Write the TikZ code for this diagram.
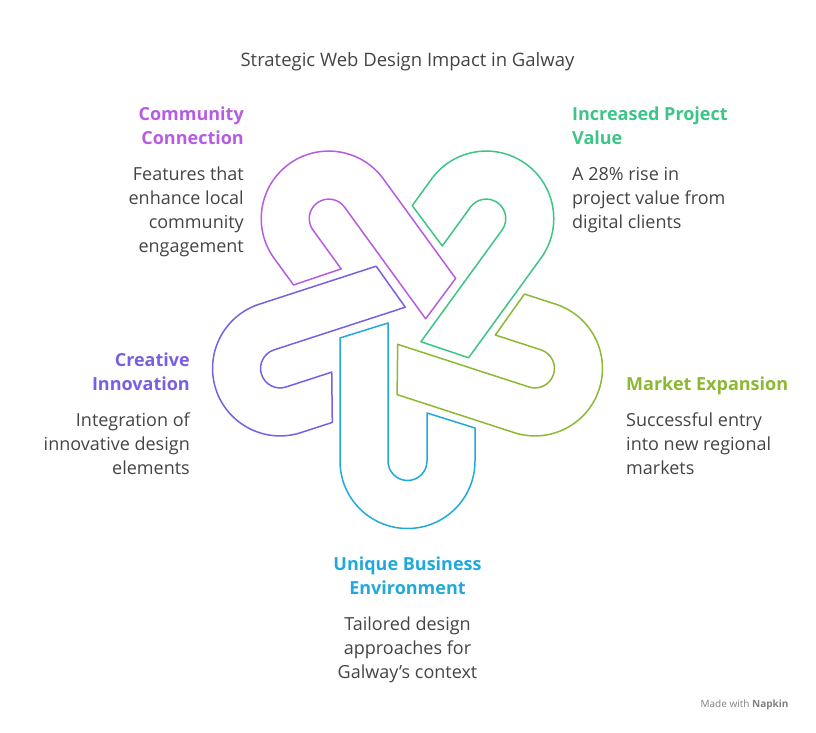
\documentclass[tikz,border=0pt]{standalone}
\usepackage{fontspec}
\setmainfont{Open Sans}
\definecolor{cpurple}{HTML}{B65CE3}
\definecolor{cgreen}{HTML}{3DC487}
\definecolor{colive}{HTML}{8DB833}
\definecolor{cblue}{HTML}{22A9DC}
\definecolor{cviolet}{HTML}{7B5FE2}
\definecolor{ctext}{HTML}{444444}
\tikzset{
  link/.style={line width=1.5pt,fill=white,line join=round},
  heading/.style={font=\bfseries\fontsize{18}{24}\selectfont,inner sep=0pt},
  desc/.style={font=\fontsize{18}{24}\selectfont,text=ctext,inner sep=0pt}
}
\begin{document}
\begin{tikzpicture}[x=1pt,y=-1pt]
  \useasboundingbox (0,0) rectangle (816,733);
  \coordinate (C) at (407.5,327);
  % one link, rotated round the centre
  \foreach \ang/\col in {0/cblue,72/colive,144/cgreen,-72/cviolet,-144/cpurple}{
    \begin{scope}[shift={(C)},rotate=\ang]
      \draw [link,draw=\col] (-67.5,11) -- (-19.5,-4) -- (-19.5,134)
        arc [start angle=180,end angle=0,radius=19.5]
        -- (19.5,86) -- (67.5,101) -- (67.5,134)
        arc [start angle=0,end angle=180,radius=67.5] -- cycle;
    \end{scope}
  }
  \node [desc,anchor=north] (title) at (407.5,52) {\fontsize{18.5}{22}\selectfont Strategic Web Design Impact in Galway};
  \node [heading,cpurple,anchor=north east,align=right] (comm) at (244,107) {Community\\Connection};
  \node [desc,anchor=north east,align=right] (commtxt) at (244,167) {Features that\\enhance local\\community\\engagement};
  \node [heading,cgreen,anchor=north west,align=left] (value) at (572,107) {Increased Project\\Value};
  \node [desc,anchor=north west,align=left] (valuetxt) at (572,167) {A 28\% rise in\\project value from\\digital clients};
  \node [heading,cviolet,anchor=north east,align=right] (innov) at (190,353) {Creative\\Innovation};
  \node [desc,anchor=north east,align=right] (innovtxt) at (190,413) {Integration of\\innovative design\\elements};
  \node [heading,colive,anchor=north west,align=left] (market) at (626,377) {Market Expansion};
  \node [desc,anchor=north west,align=left] (markettxt) at (626,413) {Successful entry\\into new regional\\markets};
  \node [heading,cblue,anchor=north,align=center] (env) at (407.5,557) {Unique Business\\Environment};
  \node [desc,anchor=north,align=center] (envtxt) at (407.5,617) {Tailored design\\approaches for\\Galway's context};
  \node [anchor=east,text=gray,font=\fontsize{10}{12}\selectfont] (napkin) at (792,705) {Made with \textbf{Napkin}};
\end{tikzpicture}
\end{document}
